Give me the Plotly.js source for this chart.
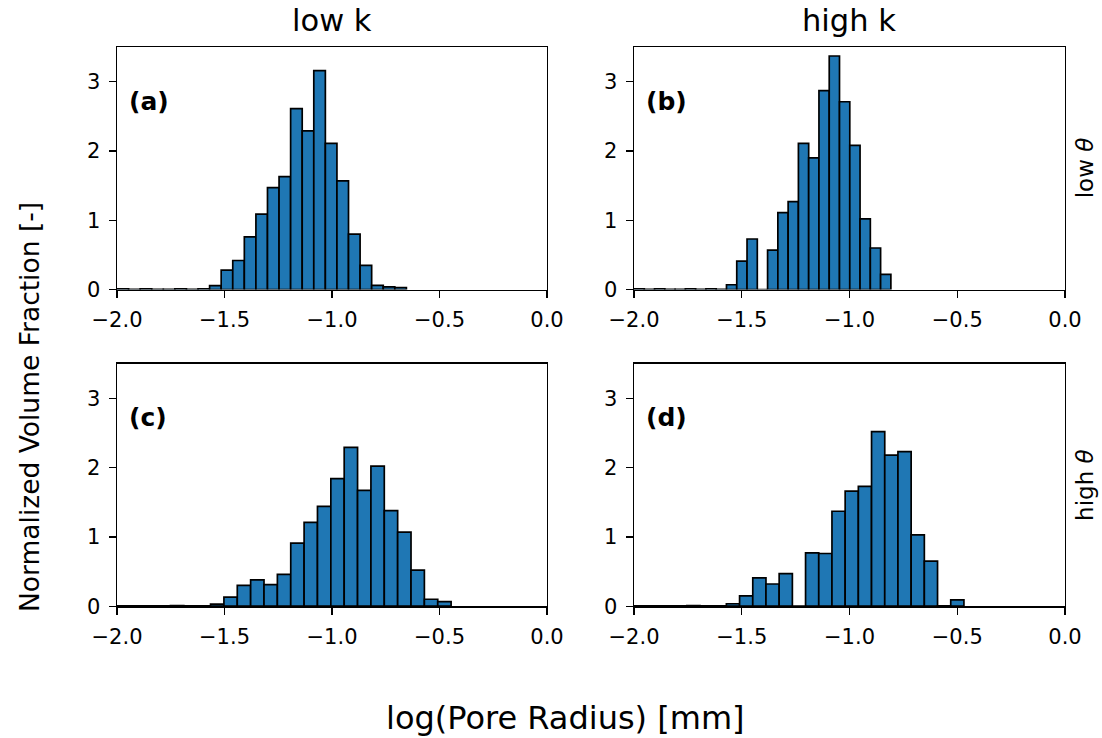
<!DOCTYPE html>
<html>
<head>
<meta charset="utf-8">
<script src="https://cdn.plot.ly/plotly-3.0.1.min.js"></script>
<style>html,body{margin:0;padding:0;background:#fff;}#chart{width:1102px;height:738px;}</style>
</head>
<body>
<div id="chart"></div>
<script>
// Histogram data: 25 bins per panel between binMin and binMax (log10 pore radius, mm)
const binMinA = -2.0, binMaxA = -0.654;
const heightsA = [0.01,0.005,0.01,0.005,0.005,0.01,0.005,0.01,
  0.057,0.28,0.42,0.76,1.09,1.47,1.63,2.61,2.29,3.16,2.11,1.57,0.80,0.35,0.06,0.04,0.03];

const binMinB = -2.0, binMaxB = -0.808;
const heightsB = [0.01,0.005,0.01,0.005,0.005,0.01,0.005,0.01,0.005,
  0.07,0.41,0.73,0,0.57,1.11,1.27,2.11,1.90,2.87,3.37,2.71,2.08,1.02,0.60,0.22];

const binMinC = -2.0, binMaxC = -0.446;
const heightsC = [0.005,0.005,0.005,0.005,0.01,0.005,0.005,
  0.03,0.13,0.30,0.38,0.31,0.46,0.91,1.21,1.44,1.84,2.29,1.67,2.02,1.38,1.07,0.52,0.10,0.065];

const binMinD = -2.0, binMaxD = -0.469;
const heightsD = [0.005,0.005,0.005,0.005,0.01,0.005,0.005,
  0.035,0.15,0.41,0.32,0.47,0,0.77,0.76,1.37,1.66,1.73,2.52,2.18,2.23,1.03,0.65,0.005,0.09];

const panelLabels = ['(a)','(b)','(c)','(d)'];
const colTitles = ['low k','high k'];
const rowTitles = ['low <i>θ</i>','high <i>θ</i>'];
const xTitle = 'log(Pore Radius) [mm]';
const yTitle = 'Normalized Volume Fraction [-]';

function histTrace(minV, maxV, heights, xa, ya) {
  const n = heights.length;
  const w = (maxV - minV) / n;
  const centers = heights.map((_, i) => minV + (i + 0.5) * w);
  return {
    type: 'bar', x: centers, y: heights, width: w,
    xaxis: xa, yaxis: ya,
    marker: {color: '#1f77b4', line: {color: 'black', width: 1.7}},
    hoverinfo: 'x+y', showlegend: false
  };
}

const data = [
  histTrace(binMinA, binMaxA, heightsA, 'x', 'y'),
  histTrace(binMinB, binMaxB, heightsB, 'x2', 'y2'),
  histTrace(binMinC, binMaxC, heightsC, 'x3', 'y3'),
  histTrace(binMinD, binMaxD, heightsD, 'x4', 'y4')
];

const W = 1102, H = 738;
const colDom = [[117/W, 547/W], [634/W, 1065/W]];
const rowDom = [[1-289.6/H, 1-47/H], [1-606.2/H, 1-363.6/H]];
const FONT = 'DejaVu Sans';

const axBase = {
  showline: true, mirror: true, linecolor: 'black', linewidth: 1.4,
  ticks: 'outside', ticklen: 7, tickwidth: 1.4, tickcolor: 'black',
  showgrid: false, zeroline: false,
  tickfont: {family: FONT, size: 21, color: 'black'}
};
function xax(col, anchor) {
  return Object.assign({}, axBase, {domain: colDom[col], anchor: anchor,
    range: [-2, 0], tick0: -2, dtick: 0.5, tickformat: '.1f', ticklabelstandoff: 4});
}
function yax(row, anchor) {
  return Object.assign({}, axBase, {domain: rowDom[row], anchor: anchor,
    range: [0, 3.5], tick0: 0, dtick: 1, ticklabelstandoff: 4});
}

const annotations = [];
const refs = [['x','y'],['x2','y2'],['x3','y3'],['x4','y4']];
panelLabels.forEach((t, i) => {
  annotations.push({text: '<b>' + t + '</b>', xref: refs[i][0], yref: refs[i][1],
    x: -1.955, y: 2.72, xanchor: 'left', yanchor: 'middle', showarrow: false,
    font: {family: FONT, size: 25, color: 'black'}});
});
colTitles.forEach((t, i) => {
  annotations.push({text: t, xref: 'paper', yref: 'paper',
    x: (colDom[i][0] + colDom[i][1]) / 2, y: 1 - 20/H, xanchor: 'center', yanchor: 'middle',
    showarrow: false, font: {family: FONT, size: 30.5, color: 'black'}});
});
rowTitles.forEach((t, i) => {
  annotations.push({text: t, xref: 'paper', yref: 'paper',
    x: 1085/W, y: (rowDom[i][0] + rowDom[i][1]) / 2, xanchor: 'center', yanchor: 'middle',
    textangle: -90, showarrow: false, font: {family: FONT, size: 23, color: 'black'}});
});
annotations.push({text: xTitle, xref: 'paper', yref: 'paper', x: 565/W, y: 1 - 718/H,
  xanchor: 'center', yanchor: 'middle', showarrow: false,
  font: {family: FONT, size: 32, color: 'black'}});
annotations.push({text: yTitle, xref: 'paper', yref: 'paper', x: 30/W, y: 1 - 407/H,
  xanchor: 'center', yanchor: 'middle', textangle: -90, showarrow: false,
  font: {family: FONT, size: 26.5, color: 'black'}});

const layout = {
  width: W, height: H,
  margin: {l: 0, r: 0, t: 0, b: 0},
  paper_bgcolor: 'white', plot_bgcolor: 'white',
  bargap: 0,
  xaxis: xax(0, 'y'), yaxis: yax(0, 'x'),
  xaxis2: xax(1, 'y2'), yaxis2: yax(0, 'x2'),
  xaxis3: xax(0, 'y3'), yaxis3: yax(1, 'x3'),
  xaxis4: xax(1, 'y4'), yaxis4: yax(1, 'x4'),
  annotations: annotations
};

Plotly.newPlot('chart', data, layout, {displayModeBar: false, staticPlot: true});
</script>
</body>
</html>
